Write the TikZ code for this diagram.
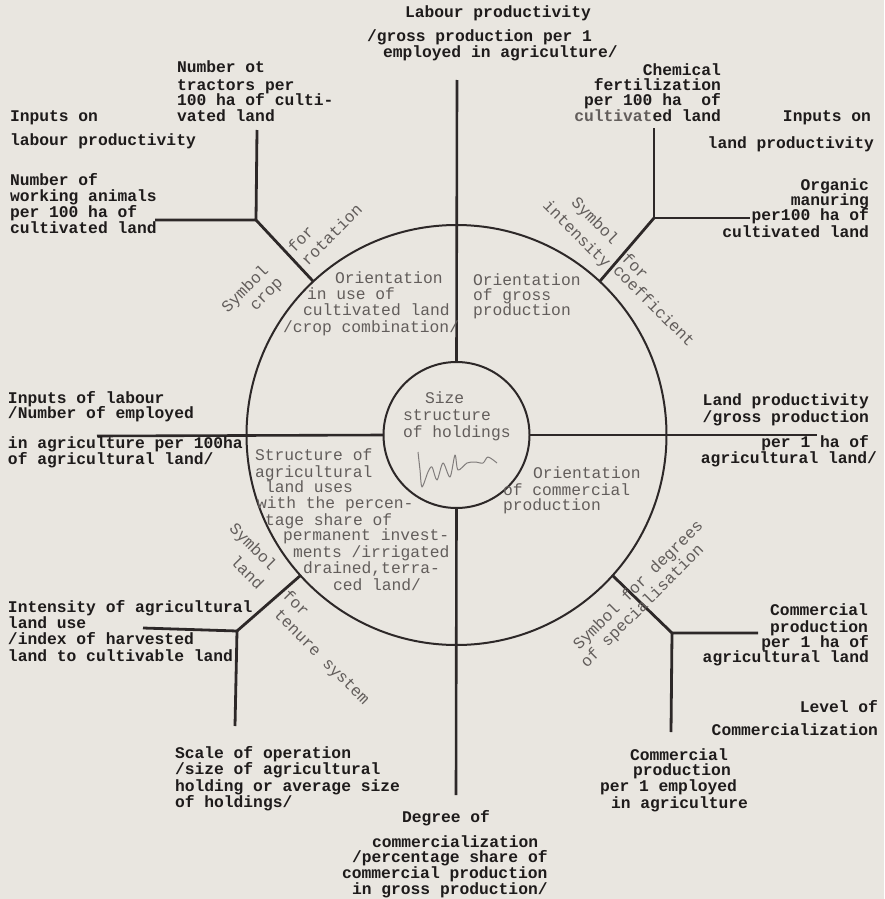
\documentclass[tikz,border=0pt]{standalone}
\usepackage{fontspec}
\newfontfamily\twfont{Liberation Mono}
\definecolor{paper}{RGB}{233,230,224}
\definecolor{ink}{RGB}{30,27,27}
\definecolor{linecol}{RGB}{45,40,40}
\definecolor{graytxt}{RGB}{98,93,91}
\tikzset{
  bt/.style={font={\twfont\bfseries\fontsize{16.3}{16}\selectfont}, text=ink, inner sep=0pt, outer sep=0pt, text height=10.5pt, text depth=3pt},
  gt/.style={font={\twfont\fontsize{16.3}{16}\selectfont}, text=graytxt, inner sep=0pt, outer sep=0pt, text height=10.5pt, text depth=3pt},
  bw/.style={bt, anchor=base west},
  be/.style={bt, anchor=base east},
  gw/.style={gt, anchor=base west},
  ln/.style={draw=linecol, line width=2.6pt},
  brl/.style={draw=linecol, line width=2.8pt, line join=round},
  rng/.style={draw=linecol, line width=2pt, circle, inner sep=0pt, outer sep=0pt},
  sig/.style={draw=graytxt!80, line width=1pt, line join=round}
}
\begin{document}
\begin{tikzpicture}[x=1pt,y=-1pt]
\useasboundingbox (0,0) rectangle (884,899);
\fill[paper] (0,0) rectangle (884,899);

% circles
\node[rng, minimum size=420pt] (big) at (456.5,435) {};
\node[rng, minimum size=146pt] (small) at (456.5,435) {};

% axis end points
\coordinate (topEnd) at (457,80);
\coordinate (botEnd) at (456,795);
\coordinate (leftEnd) at (97,436);
\coordinate (rightEnd) at (817,435);
\draw[ln] (small.north) -- (topEnd);
\draw[ln] (small.south) -- (botEnd);
\draw[ln] (small.west) -- (leftEnd);
\draw[ln] (small.east) -- (rightEnd);

% branches
\coordinate (jUL) at (256,220);
\coordinate (ulH) at (155,220);
\coordinate (ulV) at (257,130);
\draw[brl] (big.133) -- (jUL);
\draw[brl] (ulH) -- (jUL) -- (ulV);

\coordinate (jUR) at (654,218);
\coordinate (urH) at (750,218);
\coordinate (urV) at (654,128);
\draw[brl] (big.47.7) -- (jUR);
\draw[brl] (urV) -- (jUR) -- (urH);

\coordinate (jLL) at (237,631);
\coordinate (llH) at (143,628);
\coordinate (llV) at (235,726);
\draw[brl] (big.222) -- (jLL);
\draw[brl] (llH) -- (jLL) -- (llV);

\coordinate (jLR) at (672,633);
\coordinate (lrH) at (758,633);
\coordinate (lrV) at (671,732);
\draw[brl] (big.-42.3) -- (jLR);
\draw[brl] (lrH) -- (jLR) -- (lrV);

% top
\node[bw] (t1) at (405,18) {Labour productivity};
\node[bw] (t2) at (367,42) {/gross production per 1};
\node[bw] (t3) at (383,57) {employed in agriculture/};

\node[bw] (a1) at (177,73) {Number ot};
\node[bw] (a2) at (177,90) {tractors per};
\node[bw] (a3) at (177,105) {100 ha of culti-};
\node[bw] (a4) at (177,121) {vated land};

\node[bw] (b1) at (10,121) {Inputs on};
\node[bw] (b2) at (10,145) {labour productivity};
\node[bw] (b3) at (10,185) {Number of};
\node[bw] (b4) at (10,201) {working animals};
\node[bw] (b5) at (10,217) {per 100 ha of};
\node[bw] (b6) at (10,233) {cultivated land};

\node[be] (c1) at (721,75) {Chemical};
\node[be] (c2) at (721,90) {fertilization};
\node[be] (c3) at (721,105) {per 100 ha\ \ of};
\node[be] (c4) at (721,121) {{\color{graytxt}cultivat}ed land};

\node[be] (d1) at (871,121) {Inputs on};
\node[be] (d2) at (874,148) {land productivity};

\node[be] (e1) at (869,190) {Organic};
\node[be] (e2) at (869,205) {manuring};
\node[be] (e3) at (869,220) {per100 ha of};
\node[be] (e4) at (869,237) {cultivated land};

% left / right middle
\node[bw] (f1) at (8,403) {Inputs of labour};
\node[bw] (f2) at (8,418) {/Number of employed};
\node[bw] (f3) at (8,448) {in agriculture per 100ha};
\node[bw] (f4) at (8,464) {of agricultural land/};

\node[be] (g1) at (869,405) {Land productivity};
\node[be] (g2) at (869,422) {/gross production};
\node[be] (g3) at (869,447) {per 1 ha of};
\node[be] (g4) at (877,463) {agricultural land/};

% lower
\node[bw] (h1) at (8,612) {Intensity of agricultural};
\node[bw] (h2) at (8,628) {land use};
\node[bw] (h3) at (8,644) {/index of harvested};
\node[bw] (h4) at (8,661) {land to cultivable land};

\node[be] (i1) at (868,615) {Commercial};
\node[be] (i2) at (868,632) {production};
\node[be] (i3) at (869,647) {per 1 ha of};
\node[be] (i4) at (869,662) {agricultural land};

\node[bw] (j1) at (175,758) {Scale of operation};
\node[bw] (j2) at (175,774) {/size of agricultural};
\node[bw] (j3) at (175,791) {holding or average size};
\node[bw] (j4) at (175,807) {of holdings/};

\node[bw] (k1) at (402,822) {Degree of};
\node[bw] (k2) at (372,847) {commercialization};
\node[bw] (k3) at (352,862) {/percentage share of};
\node[bw] (k4) at (342,878) {commercial production};
\node[bw] (k5) at (352,894) {in gross production/};

\node[be] (l1) at (878,712) {Level of};
\node[be] (l2) at (878,735) {Commercialization};

\node[bw] (m1) at (630,760) {Commercial};
\node[bw] (m2) at (633,775) {production};
\node[bw] (m3) at (600,791) {per 1 employed};
\node[bw] (m4) at (611,808) {in agriculture};

% gray texts in the ring
\node[gw] (n1) at (335,283) {Orientation};
\node[gw] (n2) at (307,299) {in use of};
\node[gw] (n3) at (303,315) {cultivated land};
\node[gw] (n4) at (283,332) {/crop combination/};

\node[gw] (o1) at (473,285) {Orientation};
\node[gw] (o2) at (473,300) {of gross};
\node[gw] (o3) at (473,315) {production};

\node[gw] (p1) at (425,403) {Size};
\node[gw] (p2) at (403,420) {structure};
\node[gw] (p3) at (403,437) {of holdings};

\node[gw] (q1) at (255,460) {Structure of};
\node[gw] (q2) at (255,477) {agricultural};
\node[gw] (q3) at (265,492) {land uses};
\node[gw] (q4) at (257,508) {with the percen-};
\node[gw] (q5) at (265,525) {tage share of};
\node[gw] (q6) at (283,540) {permanent invest-};
\node[gw] (q7) at (293,557) {ments /irrigated};
\node[gw] (q8) at (303,573) {drained,terra-};
\node[gw] (q9) at (333,590) {ced land/};

\node[gw] (r1) at (533,478) {Orientation};
\node[gw] (r2) at (503,495) {of commercial};
\node[gw] (r3) at (503,510) {production};

% rotated symbol labels
\node[gt, rotate=45] (s1) at (246,290) {Symbol};
\node[gt, rotate=45] (s2) at (267,295) {crop};
\node[gt, rotate=45] (s3) at (302,240) {for};
\node[gt, rotate=45] (s4) at (333,236) {rotation};

\node[gt, rotate=-45] (u1) at (594,222) {Symbol};
\node[gt, rotate=-45] (u2) at (576,235) {intensity};
\node[gt, rotate=-45] (u3) at (634,267) {for};
\node[gt, rotate=-45] (u4) at (653,307) {coefficient};

\node[gt, rotate=-45] (v1) at (252,548) {Symbol};
\node[gt, rotate=-45] (v2) at (246,574) {land};
\node[gt, rotate=-45] (v3) at (295,604) {for};
\node[gt, rotate=-45] (v4) at (321,658) {tenure system};

\node[gt, rotate=45] (w1) at (639,586) {Symbol for degrees};
\node[gt, rotate=45] (w2) at (643,607) {of specialisation};

% signature
\draw[sig] plot[smooth, tension=0.5] coordinates {(418,452) (420,470) (422,487) (428,472) (432,467) (437,480) (443,463) (450,477) (455,455) (458,470) (467,463) (475,462) (483,463) (488,457) (497,463)};
\end{tikzpicture}
\end{document}
